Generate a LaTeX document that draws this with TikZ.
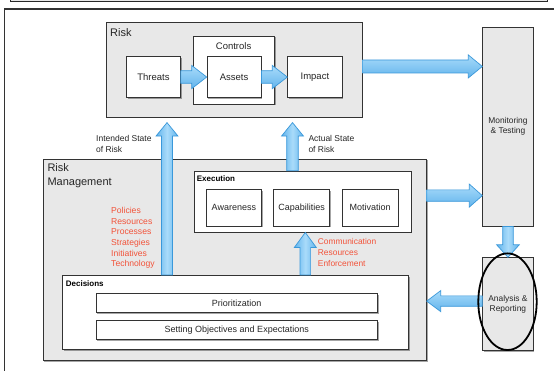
\documentclass[tikz,border=0pt]{standalone}
\usepackage{fontspec}
\setmainfont{Liberation Sans}
\usetikzlibrary{calc,shadows,shapes.geometric}
\definecolor{boxgray}{HTML}{E8E8E8}
\definecolor{edge}{HTML}{333333}
\definecolor{txt}{HTML}{262626}
\definecolor{redtxt}{HTML}{F2533A}
\definecolor{arrlight}{HTML}{A9DBFA}
\definecolor{arrdark}{HTML}{62B4EC}
\definecolor{arredge}{HTML}{3A98DA}
\newcommand{\blockarr}[6]{%
  \path ($(#3)!#6!(#2)$) coordinate (bah);
  \draw[#1] ($(#2)!#4!90:(#3)$) -- ($(bah)!#4!90:(#3)$) -- ($(bah)!#5!90:(#3)$) -- (#3)
    -- ($(bah)!#5!-90:(#3)$) -- ($(bah)!#4!-90:(#3)$) -- ($(#2)!#4!-90:(#3)$) -- cycle;
}
\begin{document}
\begin{tikzpicture}[x=1pt,y=-1pt,
  boxshadow/.style={drop shadow={shadow xshift=1.3pt,shadow yshift=-1.3pt,opacity=0.35,fill=black}},
  graybox/.style={draw=edge, line width=0.9pt, fill=boxgray, boxshadow, anchor=north west, inner sep=0pt, text=txt},
  whitebox/.style={draw=edge, line width=0.8pt, fill=white, boxshadow, anchor=north west, inner sep=0pt, text=txt},
  risklbl/.style={font=\fontsize{9.5}{11}\selectfont},
  execlbl/.style={font=\fontsize{9}{11}\selectfont},
  bigtxt/.style={anchor=west, inner sep=0pt, align=left, text=txt, font=\fontsize{11}{14}\selectfont},
  boldtxt/.style={anchor=west, inner sep=0pt, text=black, font=\fontsize{8}{10}\selectfont\bfseries},
  smalltxt/.style={anchor=west, inner sep=0pt, align=left, text=txt, font=\fontsize{8.5}{11}\selectfont},
  redlist/.style={anchor=west, inner sep=0pt, align=left, text=redtxt},
  harr/.style={draw=arredge, line width=0.7pt, top color=arrlight, bottom color=arrdark},
  varr/.style={draw=arredge, line width=0.7pt, left color=arrdark, right color=arrdark, middle color=arrlight}
]
\useasboundingbox (0,0) rectangle (554,371);
\clip (0,0) rectangle (554,371);
\fill[white] (0,0) rectangle (554,371);
% page frame
\draw[draw=edge!80!black, fill=boxgray, line width=1pt] (10,-10) rectangle (547,1.5);
\draw[edge, line width=1.3pt] (4.7,380) -- (4.7,9) -- (570,9);

% Risk
\node[graybox, minimum width=256.2, minimum height=94.4] (risk) at (105.5,22.3) {};
\node[bigtxt] (risktitle) at (110,32.7) {Risk};
\node[whitebox, minimum width=80.7, minimum height=68] (controls) at (193.3,35.7) {};
\node[risklbl, inner sep=0pt, text=txt] (controlstitle) at (233.6,45.7) {Controls};
\node[whitebox, risklbl, minimum width=54, minimum height=41.3] (threats) at (126,56) {Threats};
\node[whitebox, risklbl, minimum width=54, minimum height=41.3] (assets) at (206.7,56) {Assets};
\node[whitebox, risklbl, minimum width=54.4, minimum height=41.3] (impact) at (287.3,56) {Impact};
\blockarr{harr}{threats.east}{assets.west}{6.3pt}{11.6pt}{15pt}
\blockarr{harr}{assets.east}{impact.west}{6.3pt}{11.6pt}{15pt}

% Monitoring and Analysis
\node[graybox, minimum width=50.4, minimum height=199, align=center, font=\fontsize{8.4}{10.3}\selectfont] (mon) at (482.3,26.7) {Monitoring\\\& Testing};
\node[graybox, minimum width=50.4, minimum height=92.7, align=center, font=\fontsize{8.4}{9.8}\selectfont] (ana) at (482.3,257.3) {Analysis \&\\Reporting};

% Risk Management
\node[graybox, minimum width=383.3, minimum height=201.5] (rm) at (42.5,158.7) {};
\node[bigtxt] (rmtitle) at (47.3,176) {Risk\\Management};
\node[whitebox, minimum width=216.7, minimum height=61] (exec) at (194,170.7) {};
\node[boldtxt] (exectitle) at (196.7,178.3) {Execution};
\node[whitebox, execlbl, minimum width=55.5, minimum height=36.7] (aware) at (205.7,189) {Awareness};
\node[whitebox, execlbl, minimum width=56, minimum height=36.7] (capab) at (273.3,189) {Capabilities};
\node[whitebox, execlbl, minimum width=56, minimum height=36.7] (motiv) at (341.7,189) {Motivation};
\node[whitebox, minimum width=345.7, minimum height=74] (decisions) at (62.3,275) {};
\node[boldtxt] (dectitle) at (65.7,283.3) {Decisions};
\node[whitebox, execlbl, minimum width=281.3, minimum height=19] (prio) at (95.7,293.3) {Prioritization};
\node[whitebox, execlbl, minimum width=281.3, minimum height=19] (setobj) at (95.7,320) {Setting Objectives and Expectations};

% texts
\node[smalltxt] (intlbl) at (96,144) {Intended State\\of Risk};
\node[smalltxt] (actlbl) at (308.3,144) {Actual State\\of Risk};
\node[redlist, font=\fontsize{8.6}{10.7}\selectfont] (plist) at (111,238) {Policies\\Resources\\Processes\\Strategies\\Initiatives\\Technology};
\node[redlist, font=\fontsize{8.4}{11}\selectfont] (clist) at (317.7,252) {Communication\\Resources\\Enforcement};

% arrows
\path (risk.east) ++(0,-3.5) coordinate (rmA);
\path (rmA -| mon.west) coordinate (rmB);
\blockarr{harr}{rmA}{rmB}{6.5pt}{11.5pt}{14pt}
\path (exec.east -| rm.east) ++(0,-6) coordinate (emA);
\path (emA -| mon.west) coordinate (emB);
\blockarr{harr}{emA}{emB}{5.7pt}{11.5pt}{13pt}
\blockarr{varr}{mon.south}{ana.north}{5.3pt}{11.3pt}{12.5pt}
\path (ana.west) ++(0,-3) coordinate (adA);
\path (adA -| rm.east) coordinate (adB);
\blockarr{harr}{adA}{adB}{5.2pt}{10.5pt}{14pt}
\path (decisions.north west) ++(104.7,0) coordinate (intA);
\path (intA |- risk.south) ++(0,5) coordinate (intB);
\blockarr{varr}{intA}{intB}{5.5pt}{11pt}{13.5pt}
\path (exec.north west) ++(98.5,0) coordinate (actA);
\path (actA |- risk.south) ++(0,5) coordinate (actB);
\blockarr{varr}{actA}{actB}{5.8pt}{11pt}{13.5pt}
\path (decisions.north west) ++(243,0) coordinate (comA);
\path (comA |- exec.south) coordinate (comB);
\blockarr{varr}{comA}{comB}{5.3pt}{11pt}{15pt}

% ring
\node[ellipse, draw=black, line width=1.8pt, minimum width=58.4, minimum height=96.6, inner sep=0pt] (ring) at (507.5,301.7) {};
\end{tikzpicture}
\end{document}
